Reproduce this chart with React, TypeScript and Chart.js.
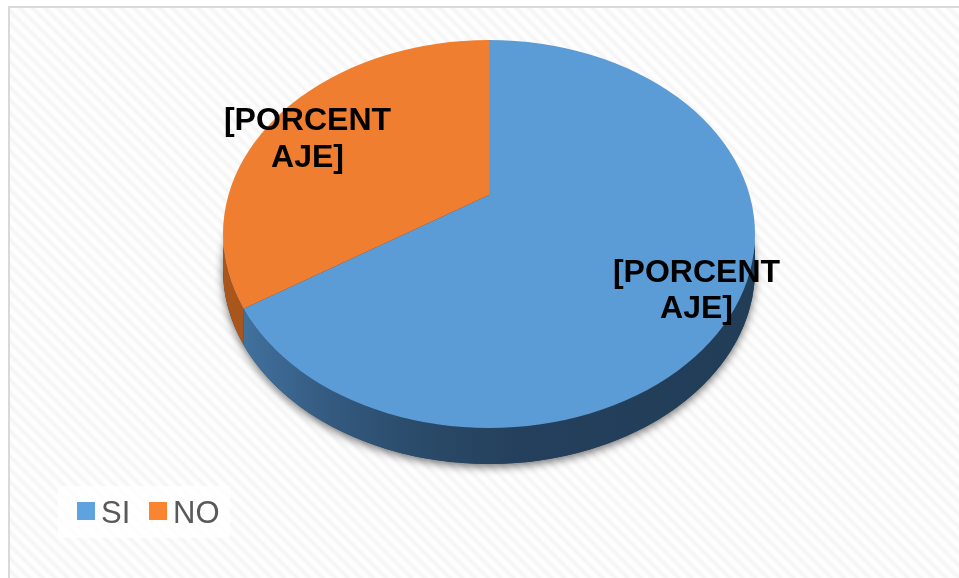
import React, { useEffect, useRef } from "react";
import { Chart, registerables } from "chart.js";

Chart.register(...registerables);

const categories = ["SI", "NO"];
const shares = [66, 34];
const sliceColors = ["#5B9BD6", "#F07E30"];
const legendColors = ["#5EA2DF", "#FB8431"];
const labelLines = ["[PORCENT", "AJE]"];

const WIDTH = 959;
const HEIGHT = 578;
const top = { cx: 489, cy: 234, rx: 266, ry: 194, depth: 36 };
const apex = { x: 489, y: 195 };
const stretchX = 1.371;
const labelSpots = [
  { x: 696.5, y1: 282, y2: 318 },
  { x: 307.5, y1: 130, y2: 167 },
];

function rimAngle(a: number) {
  const dx = Math.cos(a) * stretchX;
  const dy = Math.sin(a);
  const ox = (apex.x - top.cx) / top.rx;
  const oy = (apex.y - top.cy) / top.ry;
  const px = dx / top.rx;
  const py = dy / top.ry;
  const A = px * px + py * py;
  const B = 2 * (ox * px + oy * py);
  const C = ox * ox + oy * oy - 1;
  const t = (-B + Math.sqrt(B * B - 4 * A * C)) / (2 * A);
  return Math.atan2(oy + py * t, ox + px * t);
}

const pie3d = {
  id: "pie3d",
  beforeDatasetsDraw(chart: any) {
    const ctx = chart.ctx;
    const arcs = chart.getDatasetMeta(0).data;
    const { cx, cy, rx, ry, depth } = top;
    const split = rimAngle(arcs[0].endAngle);

    ctx.save();
    ctx.shadowColor = "rgba(0,0,0,0.55)";
    ctx.shadowBlur = 9;
    ctx.shadowOffsetY = 3;
    ctx.fillStyle = "#23405C";
    ctx.beginPath();
    ctx.ellipse(cx, cy + depth, rx, ry, 0, 0, Math.PI * 2);
    ctx.fill();
    ctx.restore();

    ctx.save();
    const side = ctx.createLinearGradient(240, 0, 740, 0);
    side.addColorStop(0, "#41729F");
    side.addColorStop(0.18, "#345A80");
    side.addColorStop(0.34, "#2B4C6B");
    side.addColorStop(0.55, "#24405C");
    side.addColorStop(1, "#223D58");
    ctx.fillStyle = side;
    ctx.beginPath();
    ctx.ellipse(cx, cy, rx, ry, 0, 0, split);
    ctx.ellipse(cx, cy + depth, rx, ry, 0, split, 0, true);
    ctx.closePath();
    ctx.fill();
    ctx.fillStyle = "#A9561C";
    ctx.beginPath();
    ctx.ellipse(cx, cy, rx, ry, 0, split, Math.PI);
    ctx.ellipse(cx, cy + depth, rx, ry, 0, Math.PI, split, true);
    ctx.closePath();
    ctx.fill();
    ctx.restore();

    ctx.save();
    ctx.beginPath();
    ctx.ellipse(cx, cy, rx, ry, 0, 0, Math.PI * 2);
    ctx.clip();
    ctx.translate(apex.x, apex.y);
    ctx.scale(stretchX, 1);
    ctx.translate(-arcs[0].x, -arcs[0].y);
  },
  afterDatasetsDraw(chart: any) {
    const ctx = chart.ctx;
    ctx.restore();

    ctx.save();
    ctx.fillStyle = "#000000";
    ctx.font = "bold 32px 'Liberation Sans'";
    ctx.textAlign = "center";
    ctx.textBaseline = "alphabetic";
    labelSpots.forEach((s) => {
      ctx.fillText(labelLines[0], s.x, s.y1);
      ctx.fillText(labelLines[1], s.x, s.y2);
    });
    ctx.restore();

    ctx.save();
    ctx.fillStyle = "rgba(255,255,255,0.8)";
    ctx.fillRect(58, 486, 172, 52);
    ctx.font = "31px 'Liberation Sans'";
    ctx.textBaseline = "alphabetic";
    const boxX = [77, 149];
    const textX = [101, 173];
    chart.data.labels.forEach((label: string, i: number) => {
      ctx.fillStyle = legendColors[i];
      ctx.fillRect(boxX[i], 502, 18, 18);
      ctx.fillStyle = "#595959";
      ctx.fillText(label, textX[i], 523);
    });
    ctx.restore();
  },
};

export default function App() {
  const ref = useRef<HTMLCanvasElement>(null);
  useEffect(() => {
    document.body.style.margin = "0";
    document.body.style.background = "#ffffff";
    const chart = new Chart(ref.current as HTMLCanvasElement, {
      type: "pie",
      data: {
        labels: categories,
        datasets: [
          {
            data: shares,
            backgroundColor: sliceColors,
            borderWidth: 0,
            clip: false,
          } as any,
        ],
      },
      options: {
        responsive: false,
        animation: false,
        layout: { padding: 0 },
        plugins: { legend: { display: false }, tooltip: { enabled: false } },
      },
      plugins: [pie3d],
    });
    return () => chart.destroy();
  }, []);
  return (
    <div style={{ position: "relative", width: WIDTH, height: HEIGHT, overflow: "hidden" }}>
      <div
        style={{
          position: "absolute",
          left: 8,
          top: 6,
          right: 0,
          bottom: 0,
          borderTop: "2px solid #D9D9D9",
          borderLeft: "2px solid #D9D9D9",
          background:
            "repeating-linear-gradient(45deg, #ffffff 0px, #fdfdfd 2px, #f4f4f4 5px, #fdfdfd 8px, #ffffff 9px)",
        }}
      />
      <canvas
        ref={ref}
        width={WIDTH}
        height={HEIGHT}
        style={{ position: "absolute", left: 0, top: 0, width: WIDTH, height: HEIGHT }}
      />
    </div>
  );
}
